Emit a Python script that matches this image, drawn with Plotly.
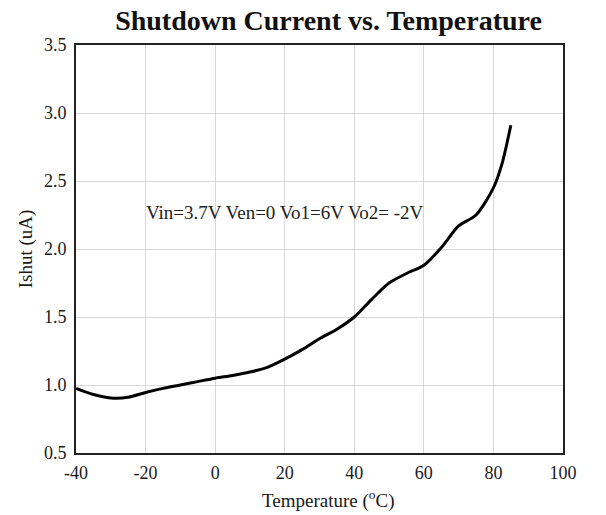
import plotly.graph_objects as go

# ── Data ──────────────────────────────────────────────────────────────────────

temperature = [-40, -35, -30, -25, -20, -15, -10, -5, 0, 5, 10, 15, 20, 25, 30,
               35, 40, 45, 50, 55, 60, 65, 70, 75, 80, 82.5, 85]
ishut = [0.975, 0.93, 0.905, 0.91, 0.945, 0.975, 1.0, 1.025, 1.05, 1.07, 1.095,
         1.13, 1.19, 1.26, 1.34, 1.41, 1.50, 1.63, 1.75, 1.82, 1.88, 2.01, 2.17,
         2.25, 2.45, 2.63, 2.91]

x_ticks = [-40, -20, 0, 20, 40, 60, 80, 100]
x_labels = ["-40", "-20", "0", "20", "40", "60", "80", "100"]
y_ticks = [0.5, 1.0, 1.5, 2.0, 2.5, 3.0, 3.5]
y_labels = ["0.5", "1.0", "1.5", "2.0", "2.5", "3.0", "3.5"]

FONT = "Liberation Serif, Times New Roman, serif"

fig = go.Figure(go.Scatter(
    x=temperature, y=ishut, mode="lines",
    line=dict(color="black", width=3, shape="spline", smoothing=0.8),
    showlegend=False, hoverinfo="skip",
))

fig.add_annotation(
    text="Vin=3.7V Ven=0 Vo1=6V Vo2= -2V",
    x=20, y=2.27, xref="x", yref="y", showarrow=False,
    font=dict(family=FONT, size=19, color="#222222"),
)

# x-axis title sits a little right of the plot centre in the reference
fig.add_annotation(
    text="Temperature (<sup>o</sup>C)",
    x=0.517, y=0, xref="paper", yref="paper", yanchor="middle",
    yshift=-46, showarrow=False,
    font=dict(family=FONT, size=19, color="#1a1a1a"),
)

# page body adds 8px margin, so figure is 8px smaller than the window
fig.update_layout(
    width=598, height=507,
    margin=dict(l=68, r=43, t=37, b=62),
    paper_bgcolor="white", plot_bgcolor="white",
    font=dict(family=FONT, size=18, color="#1a1a1a"),
    title=dict(
        text="<b>Shutdown Current vs. Temperature</b>",
        x=0.536, xanchor="center", y=0.975, yanchor="middle",
        font=dict(family=FONT, size=28, color="#111111"),
    ),
    xaxis=dict(
        range=[-40, 100], tickvals=x_ticks, ticktext=x_labels, ticks="",
        showgrid=True, gridcolor="#d8d8d8", gridwidth=1,
        showline=True, linecolor="#222222", linewidth=2, mirror=True,
        zeroline=False, automargin=False, ticklabelstandoff=2,
        tickfont=dict(size=18),
    ),
    yaxis=dict(
        range=[0.5, 3.5], tickvals=y_ticks, ticktext=y_labels, ticks="",
        showgrid=True, gridcolor="#d8d8d8", gridwidth=1,
        showline=True, linecolor="#222222", linewidth=2, mirror=True,
        zeroline=False, automargin=False, ticklabelstandoff=4,
        tickfont=dict(size=18),
        title=dict(text="Ishut (uA)", standoff=6, font=dict(size=19)),
    ),
)

fig.write_html("out.html")
